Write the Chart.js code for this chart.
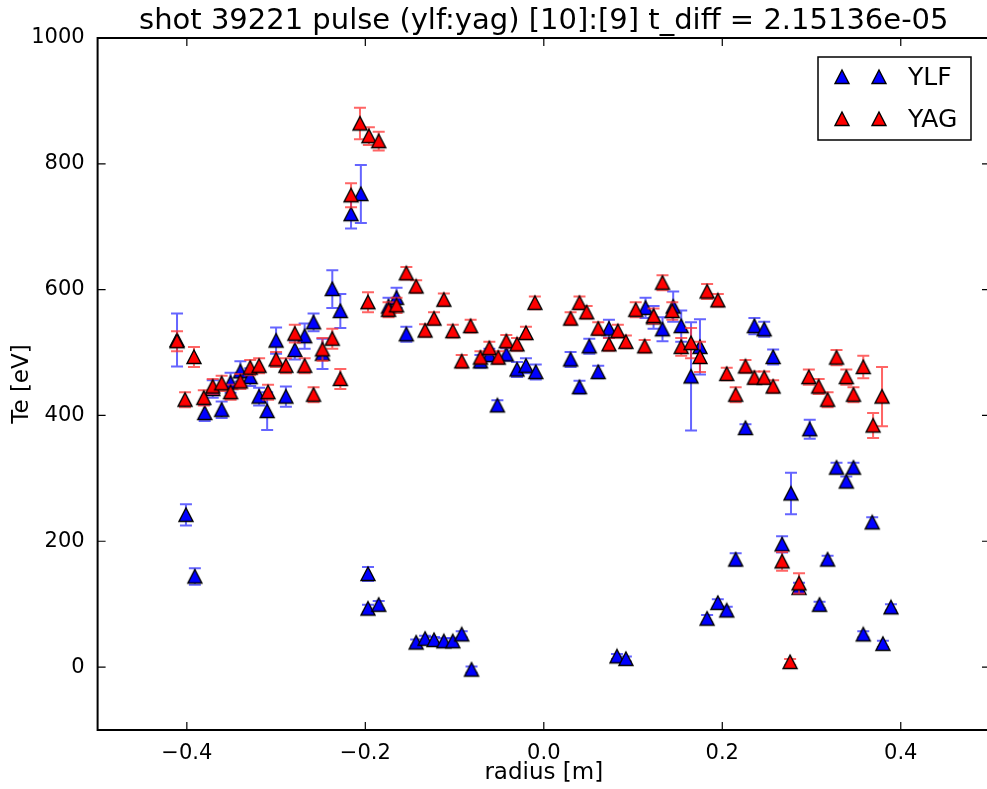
<!DOCTYPE html>
<html>
<head>
<meta charset="utf-8">
<script src="https://cdn.jsdelivr.net/npm/chart.js@4.4.1/dist/chart.umd.min.js"></script>
<style>
  html, body { margin: 0; padding: 0; background: #fff; overflow: hidden; }
  #wrap { width: 1000px; height: 789px; }
</style>
</head>
<body>
<div id="wrap"><canvas id="teChart" width="1000" height="789"></canvas></div>
<script>
// values (radius in m, Te in eV, error in eV)
const ylfR = [-0.411, -0.401, -0.391, -0.380, -0.371, -0.361, -0.351, -0.340, -0.329, -0.319,
  -0.310, -0.300, -0.289, -0.279, -0.268, -0.258, -0.248, -0.237, -0.228, -0.216,
  -0.205, -0.197, -0.197, -0.185, -0.174, -0.165, -0.154, -0.143, -0.133, -0.123,
  -0.112, -0.102, -0.092, -0.081, -0.071, -0.061, -0.052, -0.042, -0.030, -0.020,
  -0.009, 0.030, 0.040, 0.051, 0.061, 0.073, 0.082, 0.092, 0.114, 0.123,
  0.133, 0.145, 0.154, 0.165, 0.175, 0.183, 0.195, 0.205, 0.215, 0.226,
  0.236, 0.247, 0.257, 0.267, 0.277, 0.286, 0.298, 0.309, 0.318, 0.328,
  0.339, 0.347, 0.358, 0.368, 0.380, 0.389];
const ylfTe = [520, 242, 144, 404, 442, 409, 452, 470, 461, 430,
  407, 519, 430, 504, 526, 548, 498, 601, 566, 720,
  752, 148, 93, 99, 573, 587, 529, 39, 45, 43,
  41, 41, 52, -4, 486, 496, 416, 497, 473, 479,
  469, 489, 445, 510, 469, 538, 17, 13, 571, 556,
  537, 573, 542, 462, 509, 77, 102, 90, 171, 380,
  542, 537, 493, 195, 276, 126, 378, 99, 171, 317,
  295, 317, 52, 230, 37, 95];
const ylfErr = [42, 17, 13, 13, 14, 13, 16, 16, 14, 14,
  30, 21, 16, 15, 20, 14, 24, 30, 27, 23,
  46, 11, 6, 6, 14, 16, 12, 5, 5, 5,
  5, 5, 5, 5, 10, 10, 8, 10, 12, 12,
  12, 12, 10, 12, 10, 14, 4, 4, 16, 18,
  19, 24, 25, 86, 44, 6, 6, 6, 10, 6,
  13, 12, 12, 13, 33, 8, 15, 5, 6, 8,
  8, 8, 5, 8, 5, 5];

const yagR = [-0.411, -0.402, -0.392, -0.381, -0.371, -0.361, -0.351, -0.340, -0.329, -0.319,
  -0.309, -0.300, -0.289, -0.279, -0.268, -0.258, -0.248, -0.237, -0.228, -0.216,
  -0.206, -0.196, -0.197, -0.185, -0.174, -0.165, -0.154, -0.143, -0.133, -0.123,
  -0.112, -0.102, -0.092, -0.082, -0.071, -0.061, -0.051, -0.042, -0.030, -0.020,
  -0.010, 0.030, 0.040, 0.048, 0.061, 0.073, 0.083, 0.092, 0.103, 0.113,
  0.123, 0.133, 0.144, 0.154, 0.165, 0.175, 0.183, 0.195, 0.205, 0.215,
  0.226, 0.236, 0.247, 0.257, 0.267, 0.276, 0.286, 0.297, 0.308, 0.318,
  0.328, 0.339, 0.347, 0.358, 0.369, 0.379];
const yagTe = [518, 425, 493, 428, 446, 451, 437, 454, 476, 479,
  437, 489, 479, 530, 479, 433, 505, 522, 458, 750,
  864, 844, 580, 836, 568, 575, 626, 605, 535, 554,
  584, 534, 486, 542, 492, 507, 492, 518, 513, 531,
  579, 554, 579, 564, 538, 513, 534, 517, 568, 510,
  558, 611, 566, 509, 515, 493, 597, 583, 466, 433,
  478, 460, 460, 446, 168, 8, 133, 461, 446, 425,
  492, 461, 433, 477, 384, 430];
const yagErr = [16, 12, 16, 12, 12, 12, 12, 12, 12, 12,
  12, 12, 12, 14, 12, 12, 18, 16, 16, 19,
  25, 14, 16, 15, 12, 12, 10, 10, 10, 10,
  10, 10, 10, 10, 10, 10, 10, 10, 10, 10,
  10, 10, 10, 10, 10, 10, 10, 10, 12, 10,
  12, 12, 14, 14, 24, 24, 12, 10, 10, 12,
  10, 10, 10, 10, 15, 5, 16, 12, 12, 12,
  12, 12, 12, 18, 20, 47];

const xTicks = [-0.4, -0.2, 0.0, 0.2, 0.4];
const yTicks = [0, 200, 400, 600, 800, 1000];

// matplotlib-like '^' marker with black edge
function makeTri(fill) {
  const c = document.createElement('canvas');
  c.width = 18; c.height = 18;
  const g = c.getContext('2d');
  g.beginPath();
  g.moveTo(9, 2);
  g.lineTo(16, 15.5);
  g.lineTo(2, 15.5);
  g.closePath();
  g.fillStyle = fill;
  g.fill();
  g.lineWidth = 1.4;
  g.strokeStyle = '#000';
  g.stroke();
  return c;
}
const triBlue = makeTri('#0000ff');
const triRed = makeTri('#ff0000');

// error bars drawn right before each dataset's markers
const errorBars = {
  id: 'errorBars',
  beforeDatasetDraw(chart, args) {
    const ds = chart.data.datasets[args.index];
    if (!ds.errors) return;
    const xs = chart.scales.x, ys = chart.scales.y;
    const ctx = chart.ctx;
    ctx.save();
    ctx.strokeStyle = ds.errColor;
    ctx.lineWidth = 2;
    ds.data.forEach((p, i) => {
      const e = ds.errors[i];
      const px = xs.getPixelForValue(p.x);
      const top = ys.getPixelForValue(p.y + e);
      const bot = ys.getPixelForValue(p.y - e);
      ctx.beginPath();
      ctx.moveTo(px, top); ctx.lineTo(px, bot);
      ctx.moveTo(px - 6, top); ctx.lineTo(px + 6, top);
      ctx.moveTo(px - 6, bot); ctx.lineTo(px + 6, bot);
      ctx.stroke();
    });
    ctx.restore();
  }
};

// box frame with inward ticks on all four sides
const frame = {
  id: 'frame',
  afterDraw(chart) {
    const { ctx, chartArea: a } = chart;
    const xs = chart.scales.x, ys = chart.scales.y;
    ctx.save();
    ctx.strokeStyle = '#000';
    ctx.lineWidth = 1.2;
    ctx.beginPath();
    xTicks.forEach(v => {
      const px = xs.getPixelForValue(v);
      ctx.moveTo(px, a.bottom); ctx.lineTo(px, a.bottom - 8);
      ctx.moveTo(px, a.top); ctx.lineTo(px, a.top + 8);
    });
    yTicks.forEach(v => {
      const py = ys.getPixelForValue(v);
      ctx.moveTo(a.left, py); ctx.lineTo(a.left + 8, py);
      ctx.moveTo(a.right, py); ctx.lineTo(a.right - 8, py);
    });
    ctx.stroke();
    ctx.lineWidth = 2;
    ctx.strokeRect(a.left, a.top, a.right - a.left, a.bottom - a.top);
    ctx.restore();
  }
};

// legend box, two markers per entry like matplotlib
const mplLegend = {
  id: 'mplLegend',
  afterDraw(chart) {
    const { ctx, chartArea: a } = chart;
    const bx = a.right - 172, by = a.top + 19, bw = 153, bh = 83;
    ctx.save();
    ctx.fillStyle = '#fff';
    ctx.fillRect(bx, by, bw, bh);
    ctx.strokeStyle = '#000';
    ctx.lineWidth = 1.5;
    ctx.strokeRect(bx, by, bw, bh);
    const order = [1, 0];
    order.forEach((di, k) => {
      const ds = chart.data.datasets[di];
      const cy = by + 20 + k * 42;
      ctx.drawImage(ds.pointStyle, bx + 24 - 9, cy - 9);
      ctx.drawImage(ds.pointStyle, bx + 61 - 9, cy - 9);
      ctx.fillStyle = '#000';
      ctx.font = '25px "DejaVu Sans"';
      ctx.textBaseline = 'middle';
      ctx.textAlign = 'left';
      ctx.fillText(ds.label, bx + 90, cy + 1);
    });
    ctx.restore();
  }
};

const fmtX = v => v.toFixed(1).replace('-', '\u2212');

new Chart(document.getElementById('teChart'), {
  type: 'scatter',
  data: {
    datasets: [
      {
        label: 'YAG',
        data: yagR.map((r, i) => ({ x: r, y: yagTe[i] })),
        errors: yagErr,
        errColor: 'rgba(255,50,50,0.75)',
        pointStyle: triRed,
        pointRadius: 9,
        order: 0
      },
      {
        label: 'YLF',
        data: ylfR.map((r, i) => ({ x: r, y: ylfTe[i] })),
        errors: ylfErr,
        errColor: 'rgba(50,50,255,0.75)',
        pointStyle: triBlue,
        pointRadius: 9,
        order: 1
      }
    ]
  },
  options: {
    responsive: false,
    animation: false,
    devicePixelRatio: 1,
    layout: { padding: { left: 0, right: 6.4, top: 0, bottom: 0 } },
    plugins: {
      legend: { display: false },
      tooltip: { enabled: false },
      title: {
        display: true,
        fullSize: false,
        text: 'shot 39221 pulse (ylf:yag) [10]:[9] t_diff = 2.15136e-05',
        color: '#000',
        font: { family: 'DejaVu Sans', size: 29, weight: 'normal', lineHeight: 1 },
        padding: { top: 6.5, bottom: 2.5 }
      }
    },
    scales: {
      x: {
        type: 'linear',
        min: -0.5,
        max: 0.5,
        grid: { display: false },
        border: { display: false },
        afterBuildTicks: s => { s.ticks = xTicks.map(v => ({ value: v })); },
        afterFit: s => { s.height = 59; },
        ticks: {
          color: '#000',
          padding: 3,
          maxRotation: 0,
          font: { family: 'DejaVu Sans', size: 21 },
          callback: v => fmtX(v)
        },
        title: {
          display: true,
          text: 'radius [m]',
          color: '#000',
          font: { family: 'DejaVu Sans', size: 23 },
          padding: { top: 0, bottom: 2 }
        }
      },
      y: {
        type: 'linear',
        min: -100,
        max: 1000,
        grid: { display: false },
        border: { display: false },
        afterBuildTicks: s => { s.ticks = yTicks.map(v => ({ value: v })); },
        afterFit: s => { s.width = 97.6; },
        ticks: {
          color: '#000',
          padding: 5,
          font: { family: 'DejaVu Sans', size: 21 },
          callback: v => String(v)
        },
        title: {
          display: true,
          text: 'Te [eV]',
          color: '#000',
          font: { family: 'DejaVu Sans', size: 23 },
          padding: { top: 8, bottom: 0 }
        }
      }
    }
  },
  plugins: [errorBars, frame, mplLegend]
});
</script>
</body>
</html>
